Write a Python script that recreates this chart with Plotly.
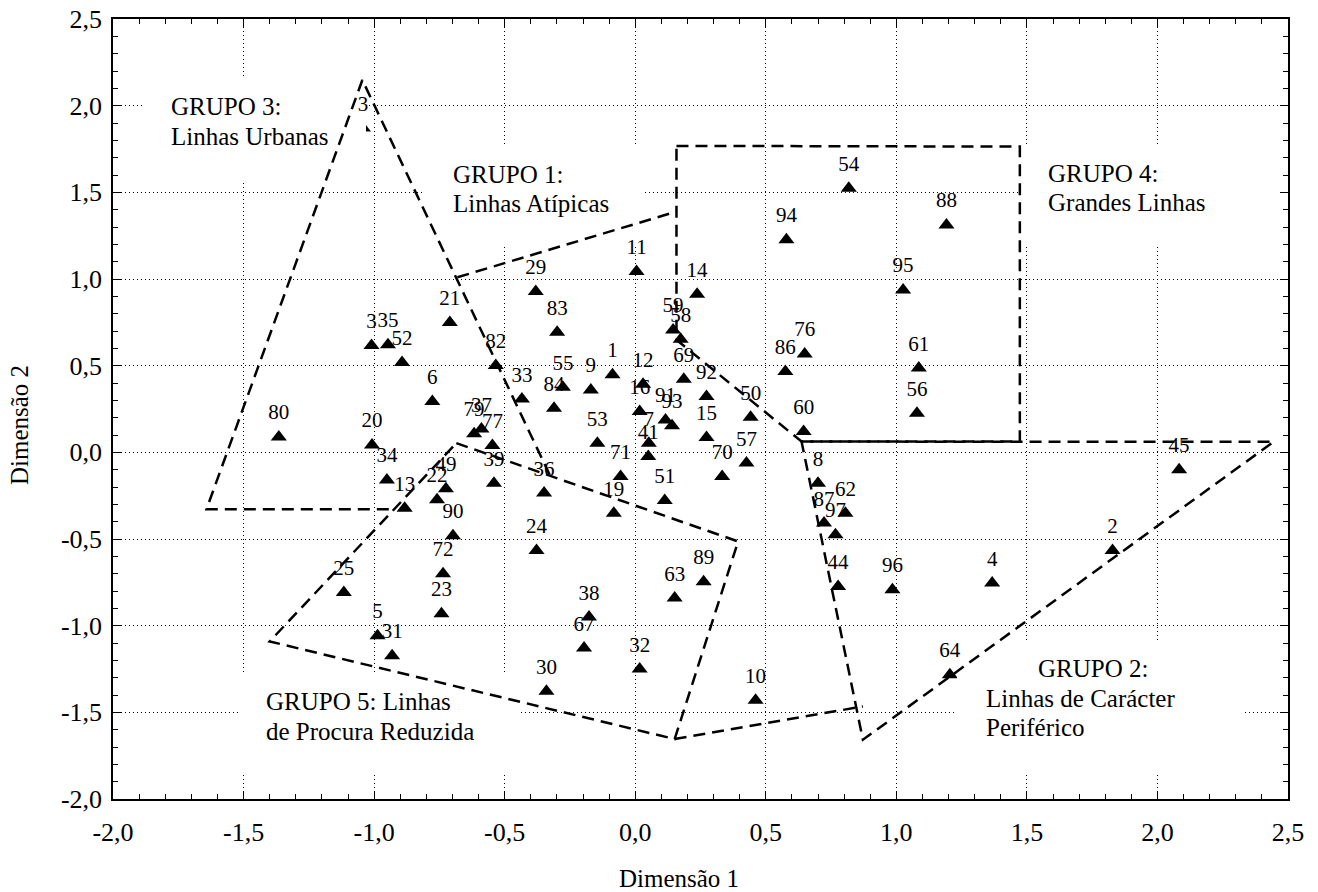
import plotly.graph_objects as go

# ---------------- data ----------------
point_labels = ["1", "2", "3", "3", "35", "4", "5", "6", "7", "8", "9", "10", "11", "12", "13",
                "14", "15", "16", "19", "20", "21", "22", "23", "24", "25", "29", "30", "31",
                "32", "33", "34", "36", "37", "38", "39", "41", "44", "45", "49", "50", "51",
                "52", "53", "54", "55", "56", "57", "58", "59", "60", "61", "62", "63", "64",
                "67", "69", "70", "71", "72", "76", "77", "79", "80", "82", "83", "84", "86",
                "87", "88", "89", "90", "91", "92", "93", "94", "95", "96", "97"]
dim1 = [-0.087, 1.828, -1.043, -1.010, -0.947, 1.367, -0.987, -0.777, 0.052, 0.700, -0.170,
        0.461, 0.005, 0.030, -0.883, 0.237, 0.273, 0.017, -0.082, -1.008, -0.710, -0.759,
        -0.742, -0.378, -1.116, -0.381, -0.340, -0.931, 0.017, -0.434, -0.951, -0.349,
        -0.589, -0.177, -0.541, 0.050, 0.777, 2.083, -0.725, 0.442, 0.113, -0.893, -0.145,
        0.818, -0.277, 1.079, 0.426, 0.174, 0.145, 0.645, 1.086, 0.805, 0.151, 1.205,
        -0.196, 0.186, 0.333, -0.056, -0.736, 0.649, -0.547, -0.617, -1.365, -0.534,
        -0.299, -0.311, 0.575, 0.723, 1.192, 0.262, -0.698, 0.116, 0.273, 0.141, 0.579,
        1.026, 0.985, 0.767]
dim2 = [0.447, -0.566, 1.871, 0.616, 0.620, -0.754, -1.058, 0.293, 0.053, -0.178, 0.360,
        -1.431, 1.043, 0.393, -0.322, 0.912, 0.085, 0.235, -0.351, 0.043, 0.749, -0.274,
        -0.931, -0.566, -0.808, 0.928, -1.379, -1.173, -1.250, 0.307, -0.159, -0.235,
        0.134, -0.950, -0.178, -0.024, -0.774, -0.101, -0.210, 0.203, -0.278, 0.518, 0.053,
        1.524, 0.376, 0.226, -0.062, 0.653, 0.706, 0.120, 0.486, -0.351, -0.841, -1.283,
        -1.129, 0.422, -0.140, -0.140, -0.701, 0.568, 0.039, 0.107, 0.089, 0.501, 0.693,
        0.255, 0.466, -0.408, 1.312, -0.747, -0.481, 0.187, 0.322, 0.153, 1.226, 0.937,
        -0.793, -0.476]

# group boundaries (dashed outlines)
g3_x = [-0.3275, -1.045, -1.642, -0.923]
g3_y = [-0.130, 2.148, -0.328, -0.328]
g5_x = [-0.685, 0.394, 0.151, -1.400, -0.685]
g5_y = [0.053, -0.514, -1.654, -1.091, 0.053]
g1a_x = [-0.681, 0.158]
g1a_y = [1.010, 1.389]
g1b_x = [0.151, 0.872]
g1b_y = [-1.654, -1.466]
g4_x = [0.158, 1.473, 1.473, 0.637, 0.158, 0.158]
g4_y = [1.768, 1.764, 0.062, 0.062, 0.649, 1.768]
g2_x = [0.637, 2.445, 0.872, 0.637]
g2_y = [0.062, 0.061, -1.658, 0.062]

tick_vals = [-2.0, -1.5, -1.0, -0.5, 0.0, 0.5, 1.0, 1.5, 2.0, 2.5]
tick_text = ["-2,0", "-1,5", "-1,0", "-0,5", "0,0", "0,5", "1,0", "1,5", "2,0", "2,5"]

FONT = "Liberation Serif"

# ---------------- geometry (page pixels) ----------------
W, H = 1318, 892
PX_L, PX_T = 113, 19          # plot area top-left
PW, PH = 1175, 780            # plot area size
MR, MB = W - PX_L - PW, H - PX_T - PH


def px2x(px):
    return -2.0 + (px - PX_L) / PW * 4.5


def py2y(py):
    return 2.5 - (py - PX_T) / PH * 4.5


fig = go.Figure()

# markers
fig.add_trace(go.Scatter(x=dim1, y=dim2, mode="markers",
                         marker=dict(symbol="triangle-up", size=14, color="black"),
                         hoverinfo="skip", showlegend=False))

# white label boxes (cover grid and part of points)
boxes = [(425, 645, 145, 247), (143, 366, 77, 180), (1021, 1287, 145, 247),
         (957, 1242, 640, 775), (238, 521, 673, 775)]
for (x0, x1, y0, y1) in boxes:
    fig.add_trace(go.Scatter(x=[px2x(x0), px2x(x1), px2x(x1), px2x(x0), px2x(x0)],
                             y=[py2y(y0), py2y(y0), py2y(y1), py2y(y1), py2y(y0)],
                             mode="lines", fill="toself", fillcolor="white",
                             line=dict(width=0, color="white"), hoverinfo="skip",
                             showlegend=False))

# point labels (invisible markers give the text its offset above the triangles)
fig.add_trace(go.Scatter(x=dim1, y=dim2, mode="markers+text", text=point_labels,
                         textposition="top center",
                         marker=dict(size=18, color="rgba(0,0,0,0)"),
                         textfont=dict(family=FONT, size=21, color="black"),
                         hoverinfo="skip", showlegend=False))

# dashed group outlines
for xs, ys in [(g3_x, g3_y), (g5_x, g5_y), (g1a_x, g1a_y), (g1b_x, g1b_y),
               (g4_x, g4_y), (g2_x, g2_y)]:
    fig.add_trace(go.Scatter(x=xs, y=ys, mode="lines",
                             line=dict(color="black", width=2.5, dash="12px,7px"),
                             hoverinfo="skip", showlegend=False))

# group texts: (text, left px, baseline px)
group_lines = [
    ("GRUPO 1:", 452, 182.7), ("Linhas Atípicas", 452, 211.7),
    ("GRUPO 3:", 170, 115), ("Linhas Urbanas", 170, 145),
    ("GRUPO 4:", 1047, 182), ("Grandes Linhas", 1047, 210.7),
    ("GRUPO 2:", 1037, 676.7), ("Linhas de Carácter", 985, 706.7), ("Periférico", 985, 736),
    ("GRUPO 5: Linhas", 265, 710), ("de Procura Reduzida", 265, 740),
]
for txt, lx, bl in group_lines:
    fig.add_annotation(x=px2x(lx), y=py2y(bl - 8.4), xref="x", yref="y", text=txt,
                       showarrow=False, xanchor="left", yanchor="middle", borderpad=0,
                       font=dict(family=FONT, size=25, color="black"))

# axis titles
fig.add_annotation(x=(679 - PX_L) / PW, y=-(878.6 - (PX_T + PH)) / PH, xref="paper", yref="paper",
                   text="Dimensão 1", showarrow=False, xanchor="center", yanchor="middle",
                   font=dict(family=FONT, size=25, color="black"))
fig.add_annotation(x=(20 - PX_L) / PW, y=((PX_T + PH) - 425) / PH, xref="paper", yref="paper",
                   text="Dimensão 2", showarrow=False, xanchor="center", yanchor="middle",
                   textangle=-90, font=dict(family=FONT, size=25, color="black"))

axis_common = dict(range=[-2.0, 2.5], tickmode="array", tickvals=tick_vals, ticktext=tick_text,
                   showline=True, linecolor="black", linewidth=1.5, mirror="allticks",
                   ticks="inside", ticklen=8, tickwidth=1, tickcolor="black",
                   showgrid=True, gridcolor="black", gridwidth=1, griddash="1px,3px",
                   zeroline=False, automargin=False, ticklabeloverflow="allow",
                   minor=dict(dtick=0.1, tick0=0, ticks="inside", ticklen=5, tickwidth=1,
                              tickcolor="black", showgrid=False),
                   tickfont=dict(family=FONT, size=26, color="black"))

fig.update_xaxes(**axis_common, ticklabelstandoff=9)
fig.update_yaxes(**axis_common, ticklabelstandoff=4)

fig.update_layout(width=W, height=H, margin=dict(l=PX_L, r=MR, t=PX_T, b=MB),
                  plot_bgcolor="white", paper_bgcolor="white", showlegend=False,
                  font=dict(family=FONT, color="black"))

fig.write_html("out.html", config={"displayModeBar": False},
               post_script="document.body.style.margin='0px';"
                           "document.body.style.overflow='hidden';")
